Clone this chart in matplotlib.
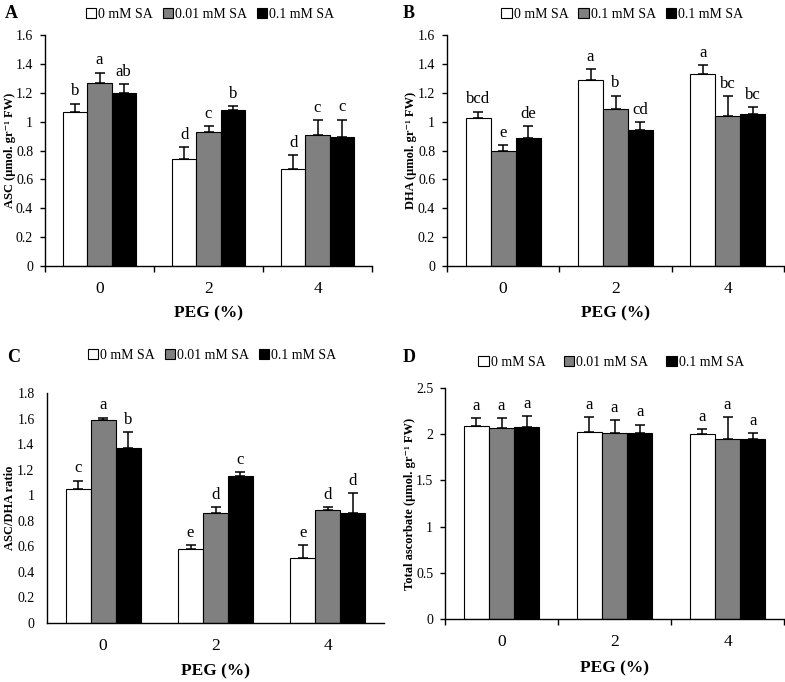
import matplotlib
matplotlib.use("Agg")
import matplotlib.pyplot as plt
from matplotlib.patches import Patch
from matplotlib.ticker import FuncFormatter
import numpy as np

plt.rcParams['font.family'] = ['Liberation Serif', 'DejaVu Serif']

categories = ['0', '2', '4']
colors = ['white', '#808080', 'black']

# Panel A: ASC
a_labels = ['0 mM SA', '0.01 mM SA', '0.1 mM SA']
a_vals = [[1.065, 0.741, 0.670], [1.265, 0.926, 0.910], [1.196, 1.078, 0.894]]
a_err = [[0.06, 0.08, 0.10], [0.075, 0.046, 0.10], [0.063, 0.028, 0.12]]
a_let = [['b', 'd', 'd'], ['a', 'c', 'c'], ['ab', 'b', 'c']]

# Panel B: DHA
b_labels = ['0 mM SA', '0.1 mM SA', '0.1 mM SA']
b_vals = [[1.023, 1.286, 1.333], [0.800, 1.088, 1.039], [0.889, 0.942, 1.053]]
b_err = [[0.046, 0.076, 0.06], [0.04, 0.092, 0.137], [0.083, 0.055, 0.048]]
b_let = [['bcd', 'a', 'a'], ['e', 'b', 'bc'], ['de', 'cd', 'bc']]

# Panel C: ASC/DHA ratio
c_labels = ['0 mM SA', '0.01 mM SA', '0.1 mM SA']
c_vals = [[1.049, 0.579, 0.509], [1.589, 0.858, 0.882], [1.367, 1.153, 0.858]]
c_err = [[0.065, 0.029, 0.10], [0.018, 0.052, 0.023], [0.125, 0.031, 0.157]]
c_let = [['c', 'e', 'e'], ['a', 'd', 'd'], ['b', 'c', 'd']]

# Panel D: Total ascorbate
d_labels = ['0 mM SA', '0.01 mM SA', '0.1 mM SA']
d_vals = [[2.085, 2.027, 2.001], [2.063, 2.012, 1.951], [2.081, 2.017, 1.944]]
d_err = [[0.09, 0.159, 0.058], [0.11, 0.137, 0.235], [0.116, 0.087, 0.072]]
d_let = [['a', 'a', 'a'], ['a', 'a', 'a'], ['a', 'a', 'a']]

W, H = 785, 682
fig = plt.figure(figsize=(W / 100, H / 100), dpi=100)

def px_axes(l, r, t, b):
    return fig.add_axes([l / W, 1 - b / H, (r - l) / W, (b - t) / H])

bw = 0.222
x = np.arange(len(categories))

def draw(ax, vals, errs, lets, labels, ymax, ystep, ylabel, ticks=True,
         leg_x=0.5, leg_y=1.09, colsp=0.7, ylab_x=-0.10, xlab_y=-0.17, ylab_size=9):
    for i in range(3):
        pos = x + (i - 1) * bw
        ax.bar(pos, vals[i], bw, color=colors[i], edgecolor='black', linewidth=0.8, zorder=2)
        ax.errorbar(pos, vals[i], yerr=[np.zeros(3), errs[i]], fmt='none', ecolor='black',
                    elinewidth=1.1, capsize=3.5, capthick=1.1, zorder=3)
        for j in range(3):
            ax.annotate(lets[i][j], (pos[j], vals[i][j] + errs[i][j]), xytext=(0, 3),
                        textcoords='offset points', ha='center', va='bottom', fontsize=12)
    ax.set_xlim(-0.5, 2.5)
    ax.set_ylim(0, ymax)
    ax.set_yticks(np.arange(0, ymax + 1e-9, ystep))
    ax.yaxis.set_major_formatter(FuncFormatter(lambda v, p: '%g' % round(v, 2)))
    ax.set_xticks([-0.5, 0.5, 1.5, 2.5])
    ax.set_xticklabels([])
    ax.set_xticks(x, minor=True)
    ax.set_xticklabels(categories, minor=True, fontsize=12.5)
    for s in ['top', 'right']:
        ax.spines[s].set_visible(False)
    for s in ['left', 'bottom']:
        ax.spines[s].set_linewidth(1.0)
    if ticks:
        ax.tick_params(axis='y', direction='out', length=3.5, width=1, labelsize=10, pad=5)
        ax.tick_params(axis='x', which='major', direction='out', length=4, width=1)
    else:
        ax.tick_params(axis='y', length=0, labelsize=10, pad=9)
        ax.tick_params(axis='x', which='major', length=0)
    ax.tick_params(axis='x', which='minor', length=0, pad=11)
    ax.set_xlabel('PEG (%)', fontsize=12.5, fontweight='bold')
    ax.xaxis.set_label_coords(0.5, xlab_y)
    ax.set_ylabel(ylabel, fontsize=ylab_size, fontweight='bold')
    ax.yaxis.set_label_coords(ylab_x, 0.5)
    handles = [Patch(facecolor=colors[i], edgecolor='black', linewidth=0.8, label=labels[i]) for i in range(3)]
    ax.legend(handles=handles, ncol=3, loc='center', bbox_to_anchor=(leg_x, leg_y), frameon=False,
              fontsize=10, handlelength=0.75, handleheight=0.75, handletextpad=0.15,
              columnspacing=colsp, borderaxespad=0)

axA = px_axes(45, 372, 35, 266)
draw(axA, a_vals, a_err, a_let, a_labels, 1.6, 0.2,
     'ASC (μmol. gr⁻¹ FW)', leg_x=0.505, leg_y=1.09, ylab_x=-0.09)

axB = px_axes(447, 784, 35, 266)
draw(axB, b_vals, b_err, b_let, b_labels, 1.6, 0.2,
     'DHA (μmol. gr⁻¹ FW)', leg_x=0.52, leg_y=1.09, ylab_x=-0.088)

axC = px_axes(47, 384, 393, 623)
draw(axC, c_vals, c_err, c_let, c_labels, 1.8, 0.2,
     'ASC/DHA ratio', ticks=False, leg_x=0.49, leg_y=1.165, xlab_y=-0.175, ylab_x=-0.092)

axD = px_axes(445, 784, 388, 619)
draw(axD, d_vals, d_err, d_let, d_labels, 2.5, 0.5,
     'Total ascorbate (μmol. gr⁻¹ FW)', leg_x=0.49, leg_y=1.11,
     colsp=1.3, xlab_y=-0.18, ylab_size=9, ylab_x=-0.087)

for lab, (px, py) in zip(['A', 'B', 'C', 'D'], [(5, 14), (403, 14), (7, 358), (403, 357)]):
    fig.text(px / W, 1 - py / H, lab, fontsize=13, fontweight='bold', ha='left', va='center')

fig.savefig('out.png', dpi=100)
